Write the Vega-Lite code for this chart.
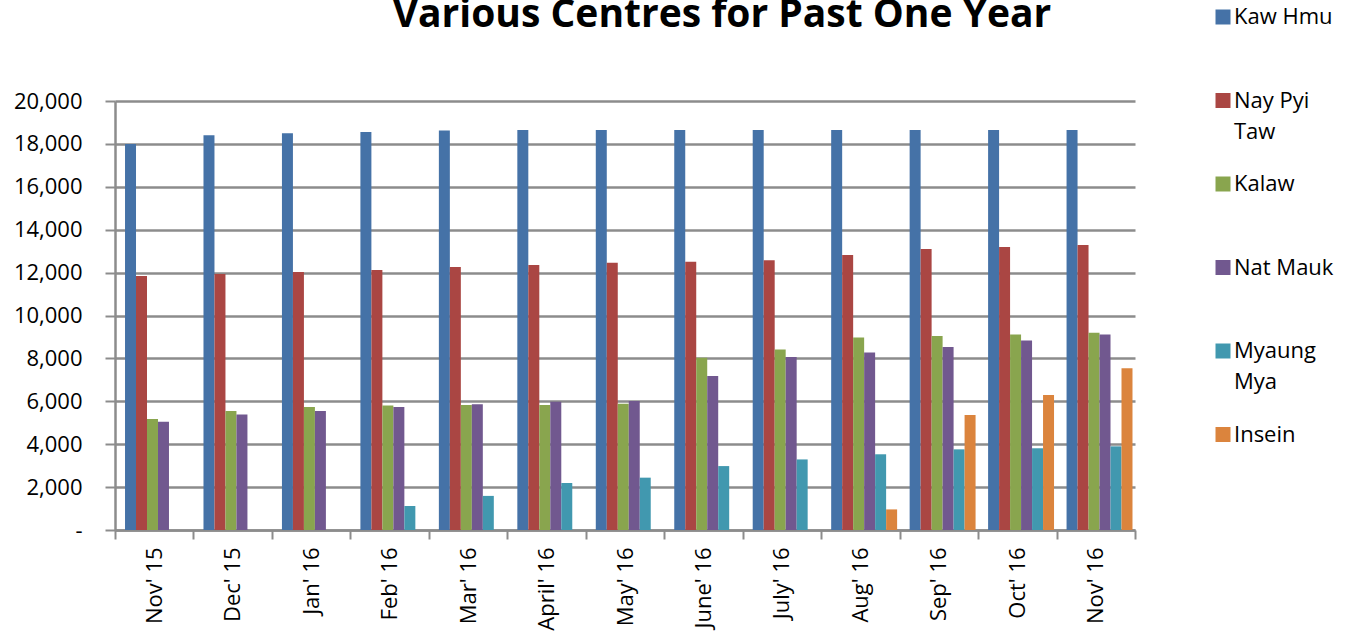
{
  "$schema": "https://vega.github.io/schema/vega-lite/v6.json",
  "width": 1020,
  "height": 429,
  "autosize": {"type": "none"},
  "padding": {"left": 115, "top": 101, "right": 223, "bottom": 108},
  "background": "white",
  "config": {
    "view": {"stroke": null},
    "font": "Open Sans"
  },
  "title": {
    "text": "Various Centres for Past One Year",
    "font": "Open Sans",
    "fontWeight": "bold",
    "fontSize": 39,
    "color": "black",
    "anchor": "middle",
    "frame": "group",
    "dx": 97,
    "dy": 60,
    "baseline": "alphabetic",
    "offset": 0
  },
  "data": {
    "values": [
      {"month": "Nov' 15", "centre": "Kaw Hmu", "value": 18000},
      {"month": "Nov' 15", "centre": "Nay Pyi Taw", "value": 11840},
      {"month": "Nov' 15", "centre": "Kalaw", "value": 5170},
      {"month": "Nov' 15", "centre": "Nat Mauk", "value": 5050},
      {"month": "Dec' 15", "centre": "Kaw Hmu", "value": 18400},
      {"month": "Dec' 15", "centre": "Nay Pyi Taw", "value": 11930},
      {"month": "Dec' 15", "centre": "Kalaw", "value": 5550},
      {"month": "Dec' 15", "centre": "Nat Mauk", "value": 5390},
      {"month": "Jan' 16", "centre": "Kaw Hmu", "value": 18500},
      {"month": "Jan' 16", "centre": "Nay Pyi Taw", "value": 12030},
      {"month": "Jan' 16", "centre": "Kalaw", "value": 5730},
      {"month": "Jan' 16", "centre": "Nat Mauk", "value": 5550},
      {"month": "Feb' 16", "centre": "Kaw Hmu", "value": 18550},
      {"month": "Feb' 16", "centre": "Nay Pyi Taw", "value": 12120},
      {"month": "Feb' 16", "centre": "Kalaw", "value": 5800},
      {"month": "Feb' 16", "centre": "Nat Mauk", "value": 5730},
      {"month": "Feb' 16", "centre": "Myaung Mya", "value": 1120},
      {"month": "Mar' 16", "centre": "Kaw Hmu", "value": 18620},
      {"month": "Mar' 16", "centre": "Nay Pyi Taw", "value": 12260},
      {"month": "Mar' 16", "centre": "Kalaw", "value": 5830},
      {"month": "Mar' 16", "centre": "Nat Mauk", "value": 5860},
      {"month": "Mar' 16", "centre": "Myaung Mya", "value": 1590},
      {"month": "April' 16", "centre": "Kaw Hmu", "value": 18650},
      {"month": "April' 16", "centre": "Nay Pyi Taw", "value": 12350},
      {"month": "April' 16", "centre": "Kalaw", "value": 5830},
      {"month": "April' 16", "centre": "Nat Mauk", "value": 5980},
      {"month": "April' 16", "centre": "Myaung Mya", "value": 2190},
      {"month": "May' 16", "centre": "Kaw Hmu", "value": 18650},
      {"month": "May' 16", "centre": "Nay Pyi Taw", "value": 12460},
      {"month": "May' 16", "centre": "Kalaw", "value": 5890},
      {"month": "May' 16", "centre": "Nat Mauk", "value": 6010},
      {"month": "May' 16", "centre": "Myaung Mya", "value": 2440},
      {"month": "June' 16", "centre": "Kaw Hmu", "value": 18650},
      {"month": "June' 16", "centre": "Nay Pyi Taw", "value": 12510},
      {"month": "June' 16", "centre": "Kalaw", "value": 8030},
      {"month": "June' 16", "centre": "Nat Mauk", "value": 7180},
      {"month": "June' 16", "centre": "Myaung Mya", "value": 2980},
      {"month": "July' 16", "centre": "Kaw Hmu", "value": 18650},
      {"month": "July' 16", "centre": "Nay Pyi Taw", "value": 12570},
      {"month": "July' 16", "centre": "Kalaw", "value": 8420},
      {"month": "July' 16", "centre": "Nat Mauk", "value": 8070},
      {"month": "July' 16", "centre": "Myaung Mya", "value": 3290},
      {"month": "Aug' 16", "centre": "Kaw Hmu", "value": 18650},
      {"month": "Aug' 16", "centre": "Nay Pyi Taw", "value": 12820},
      {"month": "Aug' 16", "centre": "Kalaw", "value": 8970},
      {"month": "Aug' 16", "centre": "Nat Mauk", "value": 8270},
      {"month": "Aug' 16", "centre": "Myaung Mya", "value": 3530},
      {"month": "Aug' 16", "centre": "Insein", "value": 960},
      {"month": "Sep' 16", "centre": "Kaw Hmu", "value": 18650},
      {"month": "Sep' 16", "centre": "Nay Pyi Taw", "value": 13100},
      {"month": "Sep' 16", "centre": "Kalaw", "value": 9040},
      {"month": "Sep' 16", "centre": "Nat Mauk", "value": 8530},
      {"month": "Sep' 16", "centre": "Myaung Mya", "value": 3760},
      {"month": "Sep' 16", "centre": "Insein", "value": 5360},
      {"month": "Oct' 16", "centre": "Kaw Hmu", "value": 18650},
      {"month": "Oct' 16", "centre": "Nay Pyi Taw", "value": 13190},
      {"month": "Oct' 16", "centre": "Kalaw", "value": 9120},
      {"month": "Oct' 16", "centre": "Nat Mauk", "value": 8840},
      {"month": "Oct' 16", "centre": "Myaung Mya", "value": 3810},
      {"month": "Oct' 16", "centre": "Insein", "value": 6290},
      {"month": "Nov' 16", "centre": "Kaw Hmu", "value": 18650},
      {"month": "Nov' 16", "centre": "Nay Pyi Taw", "value": 13290},
      {"month": "Nov' 16", "centre": "Kalaw", "value": 9200},
      {"month": "Nov' 16", "centre": "Nat Mauk", "value": 9120},
      {"month": "Nov' 16", "centre": "Myaung Mya", "value": 3900},
      {"month": "Nov' 16", "centre": "Insein", "value": 7540}
    ]
  },
  "mark": {"type": "bar"},
  "encoding": {
    "x": {
      "field": "month",
      "type": "nominal",
      "sort": ["Nov' 15", "Dec' 15", "Jan' 16", "Feb' 16", "Mar' 16", "April' 16", "May' 16", "June' 16", "July' 16", "Aug' 16", "Sep' 16", "Oct' 16", "Nov' 16"],
      "scale": {"paddingInner": 0, "paddingOuter": 0},
      "axis": {
        "title": null,
        "labelAngle": -90,
        "labelFont": "Open Sans",
        "labelFontSize": 22,
        "labelColor": "black",
        "labelPadding": 8,
        "tickBand": "extent",
        "tickSize": 9,
        "tickColor": "#8c8c8c",
        "tickWidth": 2,
        "domainColor": "#8c8c8c",
        "domainWidth": 2.5,
        "grid": false
      }
    },
    "xOffset": {
      "field": "centre",
      "type": "nominal",
      "scale": {
        "domain": ["Kaw Hmu", "Nay Pyi Taw", "Kalaw", "Nat Mauk", "Myaung Mya", "Insein"],
        "paddingInner": 0,
        "paddingOuter": 0.57,
        "align": 0.8
      }
    },
    "y": {
      "field": "value",
      "type": "quantitative",
      "scale": {"domain": [0, 20000], "nice": false},
      "axis": {
        "title": null,
        "values": [0, 2000, 4000, 6000, 8000, 10000, 12000, 14000, 16000, 18000, 20000],
        "format": ",.0f",
        "labelExpr": "datum.value == 0 ? '-\u00a0\u00a0\u00a0' : datum.label",
        "labelFont": "Open Sans",
        "labelFontSize": 22,
        "labelColor": "black",
        "labelPadding": 23,
        "tickSize": 10,
        "tickColor": "#8c8c8c",
        "tickWidth": 2,
        "domainColor": "#8c8c8c",
        "domainWidth": 2.5,
        "grid": true,
        "gridColor": "#8c8c8c",
        "gridWidth": 2.5
      }
    },
    "color": {
      "field": "centre",
      "type": "nominal",
      "scale": {
        "domain": ["Kaw Hmu", "Nay Pyi Taw", "Kalaw", "Nat Mauk", "Myaung Mya", "Insein"],
        "range": ["#4572A7", "#AA4643", "#89A54E", "#71588F", "#4198AF", "#DB843D"]
      },
      "legend": {
        "title": null,
        "orient": "none",
        "legendX": 1097,
        "legendY": -95,
        "symbolType": "square",
        "symbolSize": 225,
        "symbolStrokeWidth": 0,
        "labelFont": "Open Sans",
        "labelFontSize": 22,
        "labelColor": "black",
        "labelLimit": 200,
        "labelOffset": 0,
        "rowPadding": 30.5,
        "labelExpr": "datum.label == 'Nay Pyi Taw' ? ['Nay Pyi', 'Taw'] : datum.label == 'Myaung Mya' ? ['Myaung', 'Mya'] : [datum.label, '']",
        "encode": {
          "labels": {"update": {"lineHeight": {"value": 31}}}
        }
      }
    }
  }
}
